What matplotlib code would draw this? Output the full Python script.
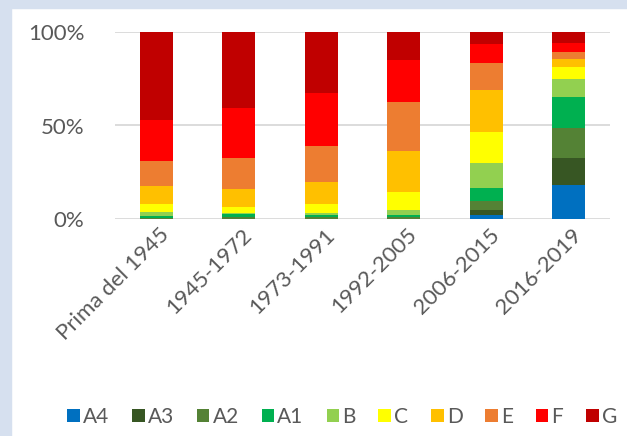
import matplotlib
matplotlib.use("Agg")
import matplotlib.pyplot as plt
import matplotlib.transforms as mtransforms
import numpy as np
from matplotlib.patches import Rectangle

periods = ["Prima del 1945", "1945-1972", "1973-1991", "1992-2005",
           "2006-2015", "2016-2019"]
classes = ["A4", "A3", "A2", "A1", "B", "C", "D", "E", "F", "G"]
colors = ["#0070C0", "#375623", "#548235", "#00B050", "#92D050",
          "#FFFF00", "#FFC000", "#ED7D31", "#FF0000", "#C00000"]

# share (%) of each class per period, bottom to top
a4 = [0.0, 0.0, 0.0, 0.0, 2.0, 18.1]
a3 = [0.0, 0.0, 0.0, 0.0, 2.8, 14.6]
a2 = [0.5, 0.7, 0.7, 0.7, 4.7, 16.1]
a1 = [1.2, 1.6, 1.4, 1.1, 7.0, 16.3]
b = [2.1, 0.9, 1.1, 2.9, 13.2, 9.9]
c = [4.2, 3.1, 4.8, 9.4, 16.8, 6.2]
d = [9.4, 9.4, 11.5, 22.4, 22.4, 4.7]
e = [13.7, 17.0, 19.3, 26.3, 14.6, 3.7]
f = [21.7, 26.9, 28.6, 22.4, 10.2, 4.9]
g = [47.2, 40.4, 32.6, 14.8, 6.3, 5.5]
series = [a4, a3, a2, a1, b, c, d, e, f, g]

plt.rcParams["font.family"] = ["Lato", "DejaVu Sans"]

fig = plt.figure(figsize=(6.27, 4.36), dpi=100)
fig.patch.set_facecolor("white")
band = "#D6E0EF"
fig.patches.append(Rectangle((0, 0), 11 / 627, 1, transform=fig.transFigure,
                             color=band, zorder=0))
fig.patches.append(Rectangle((0, 1 - 8 / 436), 1, 8 / 436,
                             transform=fig.transFigure, color=band, zorder=0))

ax = fig.add_axes([115 / 627, 1 - 218.7 / 436, 495 / 627, 186.4 / 436])
ax.set_facecolor("none")

x = np.arange(len(periods))
bottom = np.zeros(len(periods))
for name, vals, col in zip(classes, series, colors):
    v = np.array(vals) / 100.0
    ax.bar(x, v, width=0.4, bottom=bottom, color=col, label=name, zorder=3)
    bottom += v

ax.set_xlim(-0.5, 5.5)
ax.set_ylim(0, 1)
ax.set_yticks([0, 0.5, 1.0])
ax.set_yticklabels(["0%", "50%", "100%"])
ax.grid(axis="y", color="#D9D9D9", lw=1.3, zorder=0)
for s in ax.spines.values():
    s.set_visible(False)
ax.tick_params(axis="both", length=0, colors="#595959", labelsize=16)
ax.tick_params(axis="y", pad=22)

ax.set_xticks(x)
ax.set_xticklabels(periods, rotation=45, ha="right", va="center",
                   rotation_mode="anchor")
offset = mtransforms.ScaledTranslation(10 / 100, -8 / 100, fig.dpi_scale_trans)
for lab in ax.get_xticklabels():
    lab.set_transform(lab.get_transform() + offset)

fig.legend(loc="center", bbox_to_anchor=(0.546, 0.044), ncol=10,
           frameon=False, fontsize=15, handlelength=0.6, handleheight=0.6,
           handletextpad=0.15, columnspacing=1.1, labelcolor="#595959",
           borderaxespad=0, borderpad=0)

fig.savefig("out.png", dpi=100)
